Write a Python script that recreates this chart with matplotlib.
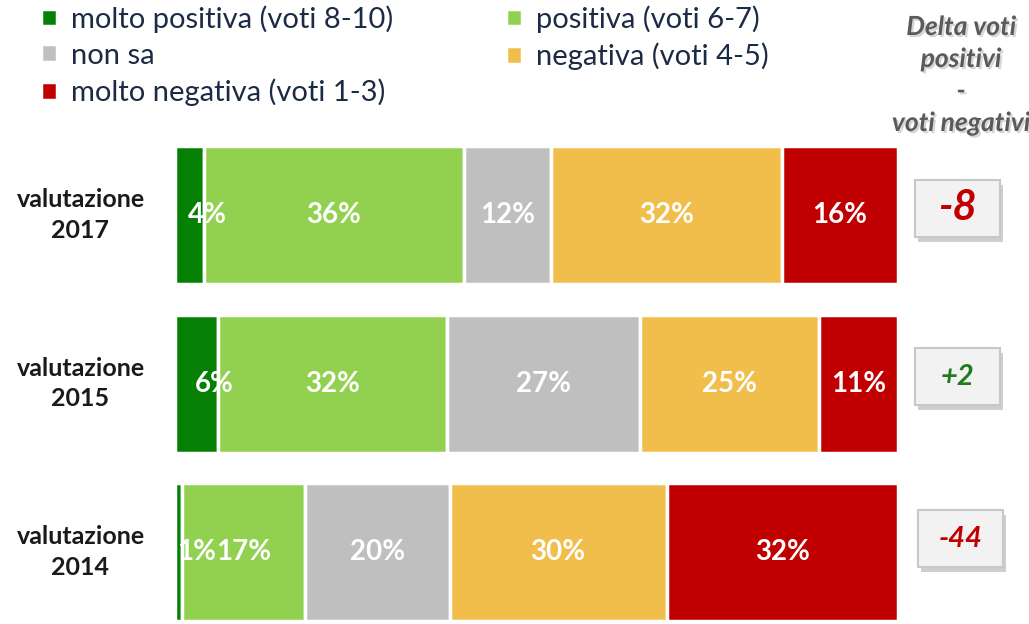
import matplotlib
matplotlib.use("Agg")
import matplotlib.pyplot as plt
import matplotlib.patheffects as pe
from matplotlib.patches import Rectangle
import matplotlib.transforms as mtransforms
import numpy as np

plt.rcParams['font.family'] = ['Lato', 'DejaVu Sans']

# data
rows = ["valutazione\n2017", "valutazione\n2015", "valutazione\n2014"]
series = ["molto positiva (voti 8-10)", "positiva (voti 6-7)", "non sa",
          "negativa (voti 4-5)", "molto negativa (voti 1-3)"]
molto_positiva = [4, 6, 1]
positiva = [36, 32, 17]
non_sa = [12, 27, 20]
negativa = [32, 25, 30]
molto_negativa = [16, 11, 32]
delta = ["-8", "+2", "-44"]

colors = ["#058005", "#92D050", "#BFBFBF", "#F1BD4B", "#C00000"]
delta_colors = ["#C00000", "#1E7B1E", "#C00000"]
delta_sizes = [30, 21, 21]

values = np.array([molto_positiva, positiva, non_sa, negativa, molto_negativa], dtype=float)
shares = values / values.sum(axis=0) * 100  # 100% stacked

fig = plt.figure(figsize=(10.29, 6.24), dpi=100)
ax = fig.add_axes([0.170, 0.0, 0.7026, 493 / 624])

y = np.arange(len(rows))
left = np.zeros(len(rows))
handles = []
for i, name in enumerate(series):
    bars = ax.barh(y, shares[i], left=left, height=0.82, color=colors[i],
                   edgecolor="white", linewidth=2.5, label=name)
    handles.append(bars)
    for j in range(len(rows)):
        xc = left[j] + shares[i][j] / 2
        if shares[i][j] < 8:
            xc += 2.5  # small segments: label sits a bit to the right
        ax.text(xc, y[j], "%d%%" % values[i][j],
                ha="center", va="center", color="white", fontsize=20,
                fontweight="bold")
    left += shares[i]

ax.set_xlim(0, 100)
ax.set_ylim(2.427, -0.5)
ax.set_yticks(y)
ax.set_yticklabels(rows, fontsize=18, fontweight="bold", color="#1a1a1a",
                   linespacing=1.4, ha="center", va="center")
ax.tick_params(axis="y", length=0, pad=68)
ax.set_xticks([])
for s in ax.spines.values():
    s.set_visible(False)

# delta boxes
trans = mtransforms.blended_transform_factory(ax.transAxes, ax.transData)
box_w = 85 / 723
box_h = 0.338
box_x = [1.0235, 1.0235, 1.0277]
box_dy = [-0.04, -0.04, -0.08]
off = mtransforms.offset_copy(trans, fig=fig, x=3, y=-5, units="dots")
for j in range(len(rows)):
    cy = y[j] + box_dy[j]
    ax.add_patch(Rectangle((box_x[j], cy - box_h / 2), box_w, box_h,
                           transform=off, facecolor="#B0B0B0", edgecolor="none",
                           alpha=0.6, clip_on=False))
    ax.add_patch(Rectangle((box_x[j], cy - box_h / 2), box_w, box_h,
                           transform=trans, facecolor="#F2F2F2",
                           edgecolor="#C8C8C8", linewidth=1.5, clip_on=False))
    ax.text(box_x[j] + box_w / 2, cy, delta[j], transform=trans,
            ha="center", va="center", color=delta_colors[j],
            fontsize=delta_sizes[j], fontweight="bold", fontstyle="italic")

# header
fig.text(0.934, 1 - 75 / 624, "Delta voti\npositivi\n-\nvoti negativi",
         ha="center", va="center", fontsize=19, fontweight="bold",
         fontstyle="italic", color="#5A5A5A", linespacing=1.4,
         path_effects=[pe.withSimplePatchShadow(offset=(1.5, -1.5),
                                                shadow_rgbFace="#999999",
                                                alpha=0.4)])

order = [0, 2, 4, 1, 3]
fig.legend([handles[k] for k in order], [series[k] for k in order],
           loc="upper left", bbox_to_anchor=(0.014, 1.034), ncol=2,
           frameon=False, fontsize=21, labelcolor="#1C2B45",
           handlelength=0.55, handleheight=0.55, handletextpad=0.5,
           columnspacing=3.85, labelspacing=0.34)

fig.savefig("out.png", dpi=100)
